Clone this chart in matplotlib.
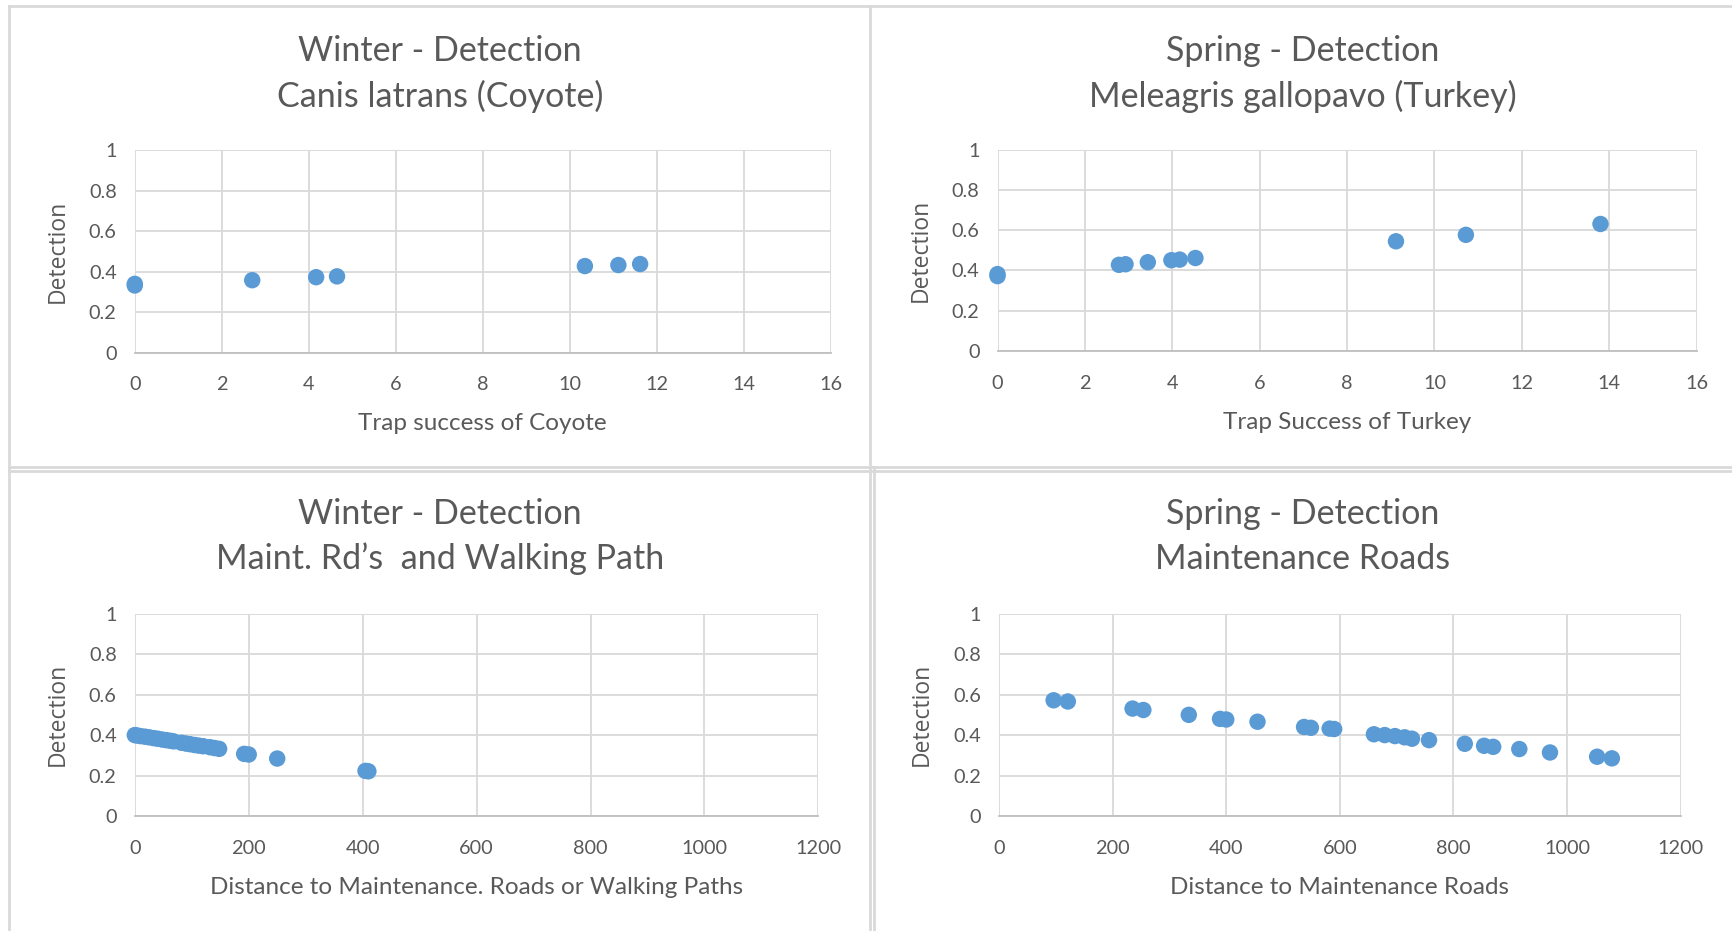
import matplotlib
matplotlib.use("Agg")
import matplotlib.pyplot as plt
from matplotlib.lines import Line2D

# ---------------- data ----------------
coyote_x = [0, 0, 2.70, 4.17, 4.65, 10.35, 11.12, 11.62]
coyote_y = [0.332, 0.340, 0.358, 0.373, 0.377, 0.428, 0.433, 0.438]

turkey_x = [0, 0, 2.78, 2.93, 3.44, 3.98, 4.17, 4.53, 9.12, 10.72, 13.80]
turkey_y = [0.372, 0.382, 0.428, 0.431, 0.441, 0.451, 0.454, 0.462, 0.545, 0.577, 0.631]

winter_dist = [0, 4, 10, 18, 25, 33, 40, 48, 55, 62, 68, 82, 90, 97, 105,
               112, 120, 132, 140, 148, 192, 200, 250, 405, 410]
winter_det = [0.400, 0.398, 0.395, 0.392, 0.389, 0.385, 0.382, 0.378, 0.375,
              0.372, 0.369, 0.362, 0.358, 0.355, 0.351, 0.348, 0.345, 0.340,
              0.336, 0.332, 0.307, 0.304, 0.284, 0.223, 0.221]

spring_dist = [96, 121, 235, 254, 334, 389, 400, 455, 537, 549, 582, 590,
               660, 679, 697, 714, 727, 757, 820, 854, 870, 916, 970, 1053, 1079]
spring_det = [0.572, 0.566, 0.531, 0.524, 0.500, 0.480, 0.477, 0.466, 0.440,
              0.436, 0.432, 0.430, 0.404, 0.400, 0.395, 0.389, 0.382, 0.375,
              0.357, 0.347, 0.342, 0.331, 0.314, 0.293, 0.285]

y_ticks = [0, 0.2, 0.4, 0.6, 0.8, 1]
y_ticklabels = ["0", "0.2", "0.4", "0.6", "0.8", "1"]
x_ticks_trap = [0, 2, 4, 6, 8, 10, 12, 14, 16]
x_ticks_dist = [0, 200, 400, 600, 800, 1000, 1200]

titles = [
    ("Winter - Detection", "Canis latrans (Coyote)"),
    ("Spring - Detection", "Meleagris gallopavo (Turkey)"),
    ("Winter - Detection", "Maint. Rd\u2019s  and Walking Path"),
    ("Spring - Detection", "Maintenance Roads"),
]
xlabels = ["Trap success of Coyote", "Trap Success of Turkey",
           "Distance to Maintenance. Roads or Walking Paths",
           "Distance to Maintenance Roads"]

# ---------------- style ----------------
W, H = 1732, 931
TXT = "#595959"
GRID = "#D9D9D9"
DOT = "#5B9BD5"
FONT = "Lato"
YFONT = "Open Sans"

fig = plt.figure(figsize=(W / 100, H / 100), dpi=100)
fig.patch.set_facecolor("white")

def hline(x0, x1, y):
    fig.add_artist(Line2D([x0 / W, x1 / W], [1 - y / H, 1 - y / H],
                          color="#D9D9D9", lw=2.0))

def vline(x, y0, y1):
    fig.add_artist(Line2D([x / W, x / W], [1 - y0 / H, 1 - y1 / H],
                          color="#D9D9D9", lw=2.0))

hline(9, W + 5, 6)
hline(9, W + 5, 467)
hline(9, W + 5, 471)
vline(9, 6, H + 5)
vline(870, 6, H + 5)
vline(874, 467, H + 5)

axes_px = [
    (134.8, 830.6, 150.4, 352.6),
    (997.5, 1696.6, 149.7, 351.0),
    (134.8, 818.4, 613.7, 816.0),
    (999.1, 1680.6, 613.7, 816.0),
]
panel_centers = [440, 1303, 440, 1303]
title_y = [(50.8, 96.0), (50.8, 96.0), (513.6, 559.0), (513.6, 559.0)]

datasets = [
    (coyote_x, coyote_y, x_ticks_trap),
    (turkey_x, turkey_y, x_ticks_trap),
    (winter_dist, winter_det, x_ticks_dist),
    (spring_dist, spring_det, x_ticks_dist),
]

for i, (x0, x1, yt, yb) in enumerate(axes_px):
    ax = fig.add_axes([x0 / W, 1 - yb / H, (x1 - x0) / W, (yb - yt) / H])
    xs, ys, xt = datasets[i]
    ax.set_xlim(xt[0], xt[-1])
    ax.set_ylim(0, 1)
    ax.set_xticks(xt)
    ax.set_xticklabels([str(v) for v in xt])
    ax.set_yticks(y_ticks)
    ax.set_yticklabels(y_ticklabels)
    ax.grid(True, color=GRID, lw=1.3)
    ax.set_axisbelow(True)
    for s in ["top", "right", "left"]:
        ax.spines[s].set_visible(False)
    ax.spines["bottom"].set_color("#BFBFBF")
    ax.spines["bottom"].set_linewidth(1.3)
    ax.tick_params(length=0, labelcolor=TXT, labelsize=14.3)
    ax.tick_params(axis="x", pad=17)
    ax.tick_params(axis="y", pad=13)
    for lab in ax.get_xticklabels() + ax.get_yticklabels():
        lab.set_fontfamily(FONT)
    ax.scatter(xs, ys, s=140, color=DOT, edgecolors="none", zorder=3,
               clip_on=False)

    ax.text(0.5, -0.353, xlabels[i], transform=ax.transAxes, ha="center",
            va="center", color=TXT, fontsize=17.5, family=FONT)
    fig.text((x0 - 77) / W, 1 - ((yt + yb) / 2) / H, "Detection",
             rotation=90, ha="center", va="center", color=TXT,
             fontsize=16.5, family=YFONT)
    l1, l2 = titles[i]
    fig.text(panel_centers[i] / W, 1 - title_y[i][0] / H, l1, ha="center",
             va="center", color=TXT, fontsize=24.5, family=FONT)
    fig.text(panel_centers[i] / W, 1 - title_y[i][1] / H, l2, ha="center",
             va="center", color=TXT, fontsize=24.5, family=FONT)

fig.savefig("out.png", dpi=100)
